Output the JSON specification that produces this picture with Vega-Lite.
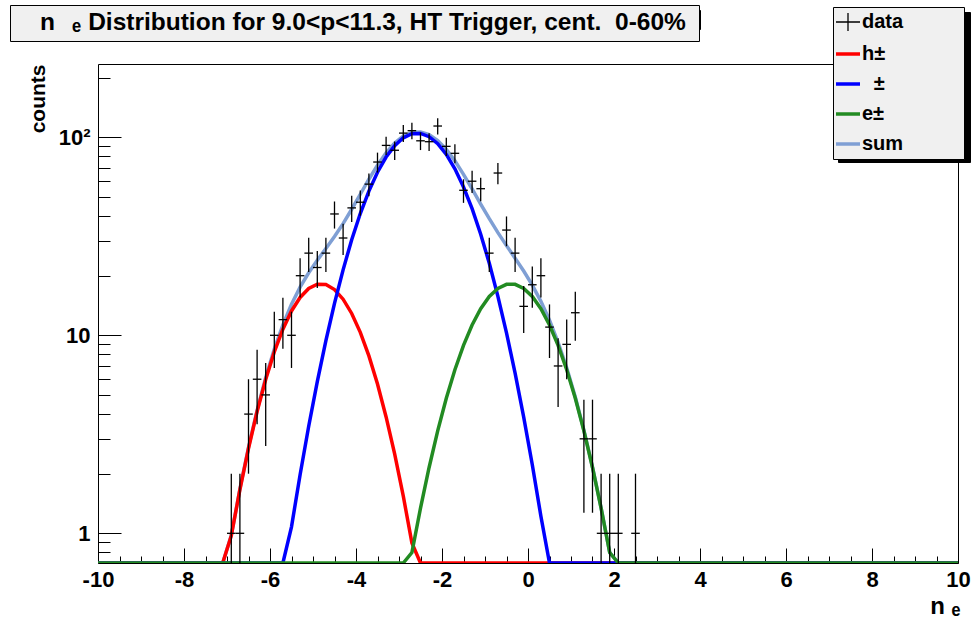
{
  "$schema": "https://vega.github.io/schema/vega-lite/v6.json",
  "width": 860,
  "height": 499,
  "autosize": "none",
  "padding": {"left": 98, "top": 64, "right": 18, "bottom": 57},
  "background": "white",
  "config": {
    "view": {"stroke": "black", "strokeWidth": 1},
    "font": "Liberation Sans",
    "axis": {"labelFont": "Liberation Sans", "labelFontWeight": "bold", "labelFontSize": 22, "labelColor": "black", "tickColor": "black", "tickWidth": 1, "domain": false, "grid": false, "titleFont": "Liberation Sans", "titleFontWeight": "bold", "titleColor": "black", "titleFontSize": 22},
    "legend": {"labelFont": "Liberation Sans", "labelFontWeight": "bold", "labelColor": "black", "titleFont": "Liberation Sans", "titleFontWeight": "bold", "titleColor": "black"}
  },
  "datasets": {
    "pts": [
      {"x": -6.9, "xl": -7.0, "xh": -6.8, "n": 1, "lo": 0.001, "hi": 2},
      {"x": -6.7, "xl": -6.8, "xh": -6.6, "n": 1, "lo": 0.001, "hi": 2},
      {"x": -6.5, "xl": -6.6, "xh": -6.4, "n": 4, "lo": 2, "hi": 6},
      {"x": -6.3, "xl": -6.4, "xh": -6.2, "n": 6, "lo": 3.55, "hi": 8.45},
      {"x": -6.1, "xl": -6.2, "xh": -6.0, "n": 5, "lo": 2.76, "hi": 7.24},
      {"x": -5.9, "xl": -6.0, "xh": -5.8, "n": 10, "lo": 6.84, "hi": 13.16},
      {"x": -5.7, "xl": -5.8, "xh": -5.6, "n": 12, "lo": 8.54, "hi": 15.46},
      {"x": -5.5, "xl": -5.6, "xh": -5.4, "n": 10, "lo": 6.84, "hi": 13.16},
      {"x": -5.3, "xl": -5.4, "xh": -5.2, "n": 20, "lo": 15.53, "hi": 24.47},
      {"x": -5.1, "xl": -5.2, "xh": -5.0, "n": 26, "lo": 20.9, "hi": 31.1},
      {"x": -4.9, "xl": -5.0, "xh": -4.8, "n": 22, "lo": 17.31, "hi": 26.69},
      {"x": -4.7, "xl": -4.8, "xh": -4.6, "n": 26, "lo": 20.9, "hi": 31.1},
      {"x": -4.5, "xl": -4.6, "xh": -4.4, "n": 41, "lo": 34.6, "hi": 47.4},
      {"x": -4.3, "xl": -4.4, "xh": -4.2, "n": 31, "lo": 25.43, "hi": 36.57},
      {"x": -4.1, "xl": -4.2, "xh": -4.0, "n": 44, "lo": 37.37, "hi": 50.63},
      {"x": -3.9, "xl": -4.0, "xh": -3.8, "n": 47, "lo": 40.14, "hi": 53.86},
      {"x": -3.7, "xl": -3.8, "xh": -3.6, "n": 58, "lo": 50.38, "hi": 65.62},
      {"x": -3.5, "xl": -3.6, "xh": -3.4, "n": 75, "lo": 66.34, "hi": 83.66},
      {"x": -3.3, "xl": -3.4, "xh": -3.2, "n": 91, "lo": 81.46, "hi": 100.54},
      {"x": -3.1, "xl": -3.2, "xh": -3.0, "n": 86, "lo": 76.73, "hi": 95.27},
      {"x": -2.9, "xl": -3.0, "xh": -2.8, "n": 105, "lo": 94.75, "hi": 115.25},
      {"x": -2.7, "xl": -2.8, "xh": -2.6, "n": 108, "lo": 97.61, "hi": 118.39},
      {"x": -2.5, "xl": -2.6, "xh": -2.4, "n": 96, "lo": 86.2, "hi": 105.8},
      {"x": -2.3, "xl": -2.4, "xh": -2.2, "n": 95, "lo": 85.25, "hi": 104.75},
      {"x": -2.1, "xl": -2.2, "xh": -2.0, "n": 114, "lo": 103.32, "hi": 124.68},
      {"x": -1.9, "xl": -2.0, "xh": -1.8, "n": 90, "lo": 80.51, "hi": 99.49},
      {"x": -1.7, "xl": -1.8, "xh": -1.6, "n": 83, "lo": 73.89, "hi": 92.11},
      {"x": -1.5, "xl": -1.6, "xh": -1.4, "n": 54, "lo": 46.65, "hi": 61.35},
      {"x": -1.3, "xl": -1.4, "xh": -1.2, "n": 60, "lo": 52.25, "hi": 67.75},
      {"x": -1.1, "xl": -1.2, "xh": -1.0, "n": 55, "lo": 47.58, "hi": 62.42},
      {"x": -0.9, "xl": -1.0, "xh": -0.8, "n": 26, "lo": 20.9, "hi": 31.1},
      {"x": -0.7, "xl": -0.8, "xh": -0.6, "n": 66, "lo": 57.88, "hi": 74.12},
      {"x": -0.5, "xl": -0.6, "xh": -0.4, "n": 34, "lo": 28.17, "hi": 39.83},
      {"x": -0.3, "xl": -0.4, "xh": -0.2, "n": 26, "lo": 20.9, "hi": 31.1},
      {"x": -0.1, "xl": -0.2, "xh": 0.0, "n": 14, "lo": 10.26, "hi": 17.74},
      {"x": 0.1, "xl": 0.0, "xh": 0.2, "n": 18, "lo": 13.76, "hi": 22.24},
      {"x": 0.3, "xl": 0.2, "xh": 0.4, "n": 20, "lo": 15.53, "hi": 24.47},
      {"x": 0.5, "xl": 0.4, "xh": 0.6, "n": 11, "lo": 7.68, "hi": 14.32},
      {"x": 0.7, "xl": 0.6, "xh": 0.8, "n": 7, "lo": 4.35, "hi": 9.65},
      {"x": 0.9, "xl": 0.8, "xh": 1.0, "n": 9, "lo": 6, "hi": 12},
      {"x": 1.1, "xl": 1.0, "xh": 1.2, "n": 13, "lo": 9.39, "hi": 16.61},
      {"x": 1.3, "xl": 1.2, "xh": 1.4, "n": 3, "lo": 1.27, "hi": 4.73},
      {"x": 1.5, "xl": 1.4, "xh": 1.6, "n": 3, "lo": 1.27, "hi": 4.73},
      {"x": 1.7, "xl": 1.6, "xh": 1.8, "n": 1, "lo": 0.001, "hi": 2},
      {"x": 1.9, "xl": 1.8, "xh": 2.0, "n": 1, "lo": 0.001, "hi": 2},
      {"x": 2.1, "xl": 2.0, "xh": 2.2, "n": 1, "lo": 0.001, "hi": 2},
      {"x": 2.5, "xl": 2.4, "xh": 2.6, "n": 1, "lo": 0.001, "hi": 2}
    ],
    "curves": [
      {"x": -10, "h": 0.001, "p": 0.001, "e": 0.001, "s": 0.001},
      {"x": -7.3, "h": 0.284, "p": 0.001, "e": 0.001, "s": 0.285},
      {"x": -7.1, "h": 0.54, "p": 0.002, "e": 0.001, "s": 0.54},
      {"x": -6.9, "h": 0.973, "p": 0.005, "e": 0.001, "s": 0.978},
      {"x": -6.7, "h": 1.662, "p": 0.012, "e": 0.001, "s": 1.674},
      {"x": -6.5, "h": 2.687, "p": 0.027, "e": 0.001, "s": 2.714},
      {"x": -6.3, "h": 4.12, "p": 0.062, "e": 0.001, "s": 4.18},
      {"x": -6.1, "h": 5.98, "p": 0.135, "e": 0.001, "s": 6.12},
      {"x": -5.9, "h": 8.24, "p": 0.28, "e": 0.001, "s": 8.52},
      {"x": -5.7, "h": 10.74, "p": 0.564, "e": 0.001, "s": 11.3},
      {"x": -5.5, "h": 13.27, "p": 1.078, "e": 0.001, "s": 14.35},
      {"x": -5.3, "h": 15.53, "p": 1.976, "e": 0.001, "s": 17.51},
      {"x": -5.1, "h": 17.23, "p": 3.47, "e": 0.001, "s": 20.7},
      {"x": -4.9, "h": 18.11, "p": 5.83, "e": 0.001, "s": 23.94},
      {"x": -4.7, "h": 18.04, "p": 9.4, "e": 0.001, "s": 27.44},
      {"x": -4.5, "h": 17.02, "p": 14.5, "e": 0.002, "s": 31.52},
      {"x": -4.3, "h": 15.22, "p": 21.4, "e": 0.003, "s": 36.62},
      {"x": -4.1, "h": 12.89, "p": 30.4, "e": 0.006, "s": 43.3},
      {"x": -3.9, "h": 10.35, "p": 41.2, "e": 0.013, "s": 51.56},
      {"x": -3.7, "h": 7.87, "p": 53.5, "e": 0.029, "s": 61.4},
      {"x": -3.5, "h": 5.68, "p": 66.6, "e": 0.062, "s": 72.34},
      {"x": -3.3, "h": 3.87, "p": 79.5, "e": 0.125, "s": 83.5},
      {"x": -3.1, "h": 2.51, "p": 90.8, "e": 0.24, "s": 93.55},
      {"x": -2.9, "h": 1.54, "p": 99.4, "e": 0.45, "s": 101.4},
      {"x": -2.7, "h": 0.894, "p": 104.2, "e": 0.8, "s": 105.9},
      {"x": -2.5, "h": 0.49, "p": 104.6, "e": 1.34, "s": 106.4},
      {"x": -2.3, "h": 0.257, "p": 100.7, "e": 2.15, "s": 103.1},
      {"x": -2.1, "h": 0.127, "p": 92.8, "e": 3.29, "s": 96.2},
      {"x": -1.9, "h": 0.059, "p": 81.9, "e": 4.81, "s": 86.77},
      {"x": -1.7, "h": 0.026, "p": 69.3, "e": 6.7, "s": 76.03},
      {"x": -1.5, "h": 0.011, "p": 56.1, "e": 8.89, "s": 65.0},
      {"x": -1.3, "h": 0.004, "p": 43.6, "e": 11.27, "s": 54.87},
      {"x": -1.1, "h": 0.002, "p": 32.4, "e": 13.62, "s": 46.02},
      {"x": -0.9, "h": 0.001, "p": 23.1, "e": 15.7, "s": 38.8},
      {"x": -0.7, "h": 0.001, "p": 15.73, "e": 17.26, "s": 32.99},
      {"x": -0.5, "h": 0.001, "p": 10.28, "e": 18.09, "s": 28.37},
      {"x": -0.3, "h": 0.001, "p": 6.44, "e": 18.09, "s": 24.53},
      {"x": -0.1, "h": 0.001, "p": 3.86, "e": 17.26, "s": 21.12},
      {"x": 0.1, "h": 0.001, "p": 2.22, "e": 15.7, "s": 17.92},
      {"x": 0.3, "h": 0.001, "p": 1.22, "e": 13.62, "s": 14.84},
      {"x": 0.5, "h": 0.001, "p": 0.64, "e": 11.27, "s": 11.91},
      {"x": 0.7, "h": 0.001, "p": 0.33, "e": 8.89, "s": 9.22},
      {"x": 0.9, "h": 0.001, "p": 0.157, "e": 6.7, "s": 6.86},
      {"x": 1.1, "h": 0.001, "p": 0.073, "e": 4.81, "s": 4.88},
      {"x": 1.3, "h": 0.001, "p": 0.03, "e": 3.29, "s": 3.32},
      {"x": 1.5, "h": 0.001, "p": 0.013, "e": 2.15, "s": 2.16},
      {"x": 1.7, "h": 0.001, "p": 0.005, "e": 1.34, "s": 1.345},
      {"x": 1.9, "h": 0.001, "p": 0.002, "e": 0.8, "s": 0.8},
      {"x": 2.1, "h": 0.001, "p": 0.001, "e": 0.45, "s": 0.45},
      {"x": 2.3, "h": 0.001, "p": 0.001, "e": 0.24, "s": 0.24},
      {"x": 10, "h": 0.001, "p": 0.001, "e": 0.001, "s": 0.001}
    ]
  },
  "encoding": {
    "x": {"field": "x", "type": "quantitative", "scale": {"domain": [-10, 10], "nice": false, "zero": false}, "axis": null}
  },
  "resolve": {"axis": {"x": "independent", "y": "independent"}},
  "layer": [
    {
      "data": {"name": "curves"},
      "mark": {"type": "line", "strokeWidth": 3.5, "clip": true},
      "encoding": {
        "x": {"field": "x", "type": "quantitative", "scale": {"domain": [-10, 10], "nice": false, "zero": false},
          "axis": {"orient": "bottom", "values": [-10, -8, -6, -4, -2, 0, 2, 4, 6, 8, 10], "labelExpr": "'' + datum.value", "tickSize": -15, "labelPadding": 21, "labelFlush": false, "labelOverlap": false, "title": "n ₑ", "titleFontSize": 24, "titleX": 862, "titleY": 50, "titleAlign": "right", "titleBaseline": "alphabetic", "titleAnchor": null}},
        "y": {"field": "s", "type": "quantitative", "scale": {"type": "log", "domain": [0.708, 234.5], "nice": false, "clamp": true},
          "axis": {"orient": "left", "values": [1, 10, 100], "labelExpr": "datum.value >= 100 ? '10²' : '' + datum.value", "tickSize": -23, "labelPadding": 31, "labelOverlap": false, "title": "counts", "titleFontSize": 21, "titleAngle": 270, "titleX": -54, "titleY": 0, "titleAlign": "right", "titleBaseline": "alphabetic", "titleAnchor": null}},
        "color": {"datum": "sum", "type": "nominal",
          "scale": {"domain": ["data", "h±", "\u200b\u2002\u200a±", "e±", "sum"], "range": ["#000000", "#ff0000", "#0000ff", "#228b22", "#7f9fd4"]},
          "legend": {"orient": "none", "legendX": 735, "legendY": -57, "zindex": 2, "title": "\u200b\u00a0\u00a0\u00a0\u00a0\u00a0\u00a0\u00a0\u00a0\u00a0\u00a0\u200b", "titleOrient": "right", "titlePadding": 0, "titleFontSize": 20, "fillColor": "#f0f0f0", "strokeColor": "#000000", "padding": 5, "labelFontSize": 20, "symbolSize": 576, "symbolStrokeWidth": 3.5, "rowPadding": 10, "labelOffset": 4, "symbolOpacity": 1,
            "encode": {"symbols": {"update": {"strokeWidth": {"signal": "datum.value === 'data' ? 1.3 : 3.5"}}}}}}
      }
    },
    {
      "data": {"name": "curves"},
      "mark": {"type": "line", "strokeWidth": 3.5, "clip": true},
      "encoding": {
        "x": {"field": "x", "type": "quantitative", "scale": {"domain": [-10, 10], "nice": false, "zero": false},
          "axis": {"orient": "bottom", "values": [-9.5, -9, -8.5, -7.5, -7, -6.5, -5.5, -5, -4.5, -3.5, -3, -2.5, -1.5, -1, -0.5, 0.5, 1, 1.5, 2.5, 3, 3.5, 4.5, 5, 5.5, 6.5, 7, 7.5, 8.5, 9, 9.5], "tickSize": -7, "labels": false, "title": null}},
        "y": {"field": "h", "type": "quantitative", "scale": {"type": "log", "domain": [0.708, 234.5], "nice": false, "clamp": true},
          "axis": {"orient": "left", "values": [0.8, 0.9, 2, 3, 4, 5, 6, 7, 8, 9, 20, 30, 40, 50, 60, 70, 80, 90, 200], "tickSize": -12, "labels": false, "title": null}},
        "color": {"datum": "h±", "type": "nominal"}
      }
    },
    {
      "data": {"name": "curves"},
      "mark": {"type": "line", "strokeWidth": 3.5, "clip": true},
      "encoding": {
        "y": {"field": "p", "type": "quantitative", "scale": {"type": "log", "domain": [0.708, 234.5], "nice": false, "clamp": true}, "axis": null},
        "color": {"datum": "\u200b\u2002\u200a±", "type": "nominal"}
      }
    },
    {
      "data": {"name": "curves"},
      "mark": {"type": "line", "strokeWidth": 3.5, "clip": true},
      "encoding": {
        "y": {"field": "e", "type": "quantitative", "scale": {"type": "log", "domain": [0.708, 234.5], "nice": false, "clamp": true}, "axis": null},
        "color": {"datum": "e±", "type": "nominal"}
      }
    },
    {
      "data": {"name": "pts"},
      "mark": {"type": "rule", "color": "#000000", "strokeWidth": 1.3},
      "encoding": {
        "y": {"field": "lo", "type": "quantitative", "scale": {"type": "log", "domain": [0.708, 234.5], "nice": false, "clamp": true}, "axis": null},
        "y2": {"field": "hi"}
      }
    },
    {
      "data": {"name": "pts"},
      "mark": {"type": "rule", "color": "#000000", "strokeWidth": 1.3},
      "encoding": {
        "x": {"field": "xl", "type": "quantitative", "scale": {"domain": [-10, 10], "nice": false, "zero": false}, "axis": null},
        "x2": {"field": "xh"},
        "y": {"field": "n", "type": "quantitative", "scale": {"type": "log", "domain": [0.708, 234.5], "nice": false, "clamp": true}, "axis": null}
      }
    },
    {
      "data": {"name": "pts"},
      "mark": {"type": "point", "filled": false, "opacity": 0},
      "encoding": {
        "y": {"field": "n", "type": "quantitative", "scale": {"type": "log", "domain": [0.708, 234.5], "nice": false, "clamp": true}, "axis": null},
        "color": {"datum": "data", "type": "nominal"},
        "shape": {"datum": "data", "type": "nominal",
          "scale": {"domain": ["data", "h±", "\u200b\u2002\u200a±", "e±", "sum"], "range": ["M-1,0H1M0,-0.75V0.75", "stroke", "stroke", "stroke", "stroke"]},
          "legend": {"orient": "none", "legendX": 735, "legendY": -57, "zindex": 2, "title": "\u200b\u00a0\u00a0\u00a0\u00a0\u00a0\u00a0\u00a0\u00a0\u00a0\u00a0\u200b", "titleOrient": "right", "titlePadding": 0, "titleFontSize": 20, "fillColor": "#f0f0f0", "strokeColor": "#000000", "padding": 5, "labelFontSize": 20, "symbolSize": 576, "symbolStrokeWidth": 3.5, "rowPadding": 10, "labelOffset": 4, "symbolOpacity": 1,
            "encode": {"symbols": {"update": {"strokeWidth": {"signal": "datum.value === 'data' ? 1.3 : 3.5"}}}}}}
      }
    },
    {
      "data": {"name": "pts"},
      "mark": {"type": "point", "opacity": 0},
      "encoding": {
        "y": {"field": "n", "type": "quantitative", "scale": {"type": "log", "domain": [0.708, 234.5], "nice": false, "clamp": true}, "axis": null},
        "strokeDash": {"datum": "t", "type": "nominal",
          "legend": {"orient": "none", "legendX": -88, "legendY": -59, "zindex": 2, "title": "n\u2002\u2009ₑ Distribution for 9.0<p<11.3, HT Trigger, cent.\u00a0 0-60%\u00a0\u200b", "titleOrient": "right", "titleFontSize": 24.5, "titleLimit": 2000, "titlePadding": 0, "fillColor": "#f0f0f0", "strokeColor": "#000000", "padding": 6, "symbolSize": 484, "symbolOpacity": 0, "labelExpr": "''", "labelFontSize": 1, "labelOffset": 0}}
      }
    },
    {
      "data": {"name": "pts"},
      "mark": {"type": "point", "filled": false, "color": "#000000", "opacity": 0, "fillOpacity": 0, "strokeOpacity": 0},
      "encoding": {
        "y": {"field": "n", "type": "quantitative", "scale": {"type": "log", "domain": [0.708, 234.5], "nice": false, "clamp": true}, "axis": null},
        "strokeWidth": {"datum": "a01", "type": "ordinal",
          "scale": {"domain": ["a01", "a02", "a03", "a04", "a05", "a06", "a07", "a08", "a09", "a10", "a11", "a12", "a13", "a14", "a15", "a16", "a17", "a18"], "range": [1]},
          "legend": {"orient": "none", "legendX": -83, "legendY": -54, "zindex": 1, "title": null, "fillColor": "#000000", "strokeColor": "#000000", "padding": 0, "columns": 18, "columnPadding": 1.2, "rowPadding": 0, "symbolSize": 1369, "symbolOpacity": 0, "symbolStrokeWidth": 0, "symbolStrokeColor": "#000000", "symbolFillColor": "#000000", "labelExpr": "''", "labelFontSize": 1, "labelOffset": 0}},
        "opacity": {"datum": "b01", "type": "ordinal",
          "scale": {"domain": ["b01", "b02", "b03", "b04", "b05", "b06", "b07", "b08", "b09", "b10", "b11", "b12", "b13", "b14", "b15", "b16"], "range": [0]},
          "legend": {"orient": "none", "legendX": 740, "legendY": -52, "zindex": 1, "title": null, "fillColor": "#000000", "strokeColor": "#000000", "padding": 0, "columns": 4, "columnPadding": 0, "rowPadding": 6, "symbolSize": 1089, "symbolOpacity": 0, "symbolStrokeWidth": 0, "symbolStrokeColor": "#000000", "symbolFillColor": "#000000", "labelExpr": "''", "labelFontSize": 1, "labelOffset": 0}}
      }
    }
  ]
}
